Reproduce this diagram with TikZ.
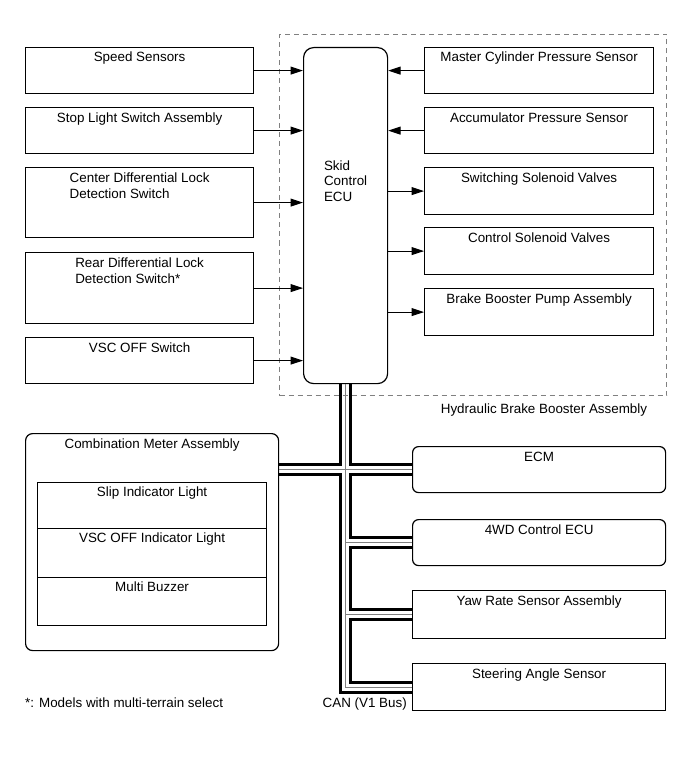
\documentclass[tikz,border=0pt]{standalone}
\usepackage{fontspec}
\setmainfont{Liberation Sans}
\usetikzlibrary{arrows.meta,calc}
\begin{document}
\begin{tikzpicture}[x=1pt,y=-1pt,
  font=\fontsize{13.4}{15.5}\selectfont,
  box/.style={draw, line width=1.2pt, inner sep=0pt, anchor=north west},
  rbox/.style={box, rounded corners=6pt},
  lbl/.style={inner sep=0pt, anchor=base},
  mlbl/.style={inner sep=0pt, anchor=north, align=left},
  sig/.style={line width=1pt, -{Triangle[length=12.5pt,width=8pt]}},
  can/.style={line width=3pt},
  canc/.style={line width=0.7pt, gray}]
\useasboundingbox (0,0) rectangle (691,757);

% dashed assembly frame
\node[draw=gray, dash pattern=on 5pt off 4pt, line width=1pt, inner sep=0pt,
      minimum width=387pt, minimum height=361pt, anchor=north west] (hbba) at (279,34) {};
\node[lbl] at ($(hbba.south east)+(-123,17)$) {Hydraulic Brake Booster Assembly};

% ECU
\node[box, rounded corners=10pt, minimum width=84pt, minimum height=336pt] (ecu) at (303,47) {};
\node[mlbl] at ($(ecu.north)+(0,113.3)$) {Skid\\Control\\ECU};

% left input boxes
\node[box, minimum width=228pt, minimum height=46pt] (speed) at (25,47) {};
\node[lbl] at ($(speed.north)+(0,15)$) {Speed Sensors};
\node[box, minimum width=228pt, minimum height=46pt] (stop) at (25,107) {};
\node[lbl] at ($(stop.north)+(0,15)$) {Stop Light Switch Assembly};
\node[box, minimum width=228pt, minimum height=70pt] (cdl) at (25,167) {};
\node[mlbl] at ($(cdl.north)+(0,6)$) {Center Differential Lock\\Detection Switch};
\node[box, minimum width=228pt, minimum height=71pt] (rdl) at (25,252) {};
\node[mlbl] at ($(rdl.north)+(0,6)$) {Rear Differential Lock\\Detection Switch*};
\node[box, minimum width=228pt, minimum height=46pt] (vscsw) at (25,337) {};
\node[lbl] at ($(vscsw.north)+(0,15)$) {VSC OFF Switch};

% right upper boxes
\node[box, minimum width=229pt, minimum height=46pt] (mcps) at (424,47) {};
\node[lbl] at ($(mcps.north)+(0,15)$) {Master Cylinder Pressure Sensor};
\node[box, minimum width=229pt, minimum height=46pt] (acc) at (424,107) {};
\node[lbl] at ($(acc.north)+(0,15)$) {Accumulator Pressure Sensor};
\node[box, minimum width=229pt, minimum height=47pt] (ssv) at (424,167) {};
\node[lbl] at ($(ssv.north)+(0,15)$) {Switching Solenoid Valves};
\node[box, minimum width=229pt, minimum height=47pt] (csv) at (424,227) {};
\node[lbl] at ($(csv.north)+(0,15)$) {Control Solenoid Valves};
\node[box, minimum width=229pt, minimum height=47pt] (bbp) at (424,288) {};
\node[lbl] at ($(bbp.north)+(0,15)$) {Brake Booster Pump Assembly};

% signal arrows
\foreach \n in {speed,stop,cdl,rdl,vscsw}
  \draw[sig] (\n.east) -- (\n.east -| ecu.west);
\foreach \n in {mcps,acc}
  \draw[sig] (\n.west) -- (\n.west -| ecu.east);
\foreach \n in {ssv,csv,bbp}
  \draw[sig] (\n.west -| ecu.east) -- (\n.west);

% combination meter
\node[box, rounded corners=7pt, minimum width=253pt, minimum height=217pt] (meter) at (25,433) {};
\node[lbl] at ($(meter.north)+(0,15)$) {Combination Meter Assembly};
\node[box, minimum width=229pt, minimum height=46pt] (slip) at (37,482) {};
\node[lbl] at ($(slip.north)+(0,14)$) {Slip Indicator Light};
\node[box, minimum width=229pt, minimum height=49pt] (vscind) at (37,528) {};
\node[lbl] at ($(vscind.north)+(0,14)$) {VSC OFF Indicator Light};
\node[box, minimum width=229pt, minimum height=48pt] (buzz) at (37,577) {};
\node[lbl] at ($(buzz.north)+(0,14)$) {Multi Buzzer};

% right lower boxes
\node[rbox, minimum width=253pt, minimum height=46pt] (ecm) at (412,446) {};
\node[lbl] at ($(ecm.north)+(0,15)$) {ECM};
\node[rbox, minimum width=253pt, minimum height=46pt] (wd) at (412,519) {};
\node[lbl] at ($(wd.north)+(0,15)$) {4WD Control ECU};
\node[box, minimum width=253pt, minimum height=48pt] (yaw) at (412,590) {};
\node[lbl] at ($(yaw.north)+(0,15)$) {Yaw Rate Sensor Assembly};
\node[box, minimum width=253pt, minimum height=47pt] (steer) at (412,663) {};
\node[lbl] at ($(steer.north)+(0,15)$) {Steering Angle Sensor};

% CAN bus
\coordinate (tO) at ($(ecu.south)+(-5,0)$);
\coordinate (tI) at ($(ecu.south)+(5,0)$);
\coordinate (tC) at (ecu.south);
\coordinate (eU) at ($(ecm.west)+(0,-5)$);
\coordinate (eL) at ($(ecm.west)+(0,5)$);
\coordinate (wU) at ($(wd.west)+(0,-5)$);
\coordinate (wL) at ($(wd.west)+(0,5)$);
\coordinate (yU) at ($(yaw.west)+(0,-5)$);
\coordinate (yL) at ($(yaw.west)+(0,5)$);
\coordinate (sU) at ($(steer.west)+(0,-5)$);
\coordinate (sL) at ($(steer.west)+(0,5)$);

\draw[canc] (tC) -- (tC |- steer.west) -- (steer.west);
\draw[canc] (meter.east |- ecm.west) -- (ecm.west);
\draw[canc] (tC |- wd.west) -- (wd.west);
\draw[canc] (tC |- yaw.west) -- (yaw.west);

\draw[can] (tO) |- (meter.east |- eU);
\draw[can] (tI) |- (eU);
\draw[can] (meter.east |- eL) -| (tO |- sL) -- (sL);
\draw[can] (eL) -| (tI |- wU) -- (wU);
\draw[can] (wL) -| (tI |- yU) -- (yU);
\draw[can] (yL) -| (tI |- sU) -- (sU);

\node[inner sep=0pt, anchor=base east] at ($(steer.west)+(-5,20.5)$) {CAN (V1 Bus)};
\node[inner sep=0pt, anchor=base west] at (25,707) {*: Models with multi-terrain select};
\end{tikzpicture}
\end{document}
